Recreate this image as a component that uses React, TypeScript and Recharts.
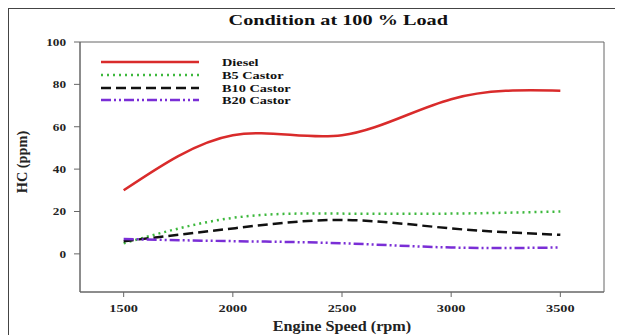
import React from 'react';
import { LineChart, Line, XAxis, YAxis, ReferenceArea } from 'recharts';

// HC emissions at full load
const speeds = [1500, 2000, 2500, 3000, 3500];
const diesel = [30, 56, 56, 73, 77];
const b5Castor = [5, 17, 19, 19, 20];
const b10Castor = [6, 12, 16, 12, 9];
const b20Castor = [7, 6, 5, 3, 3];

const xTicks = [1500, 2000, 2500, 3000, 3500];
const yTicks = [0, 20, 40, 60, 80, 100];

const series = [
    { key: 'diesel', name: 'Diesel', color: '#d92b2b', dash: undefined as string | undefined },
    { key: 'b5', name: 'B5 Castor', color: '#3db83d', dash: '2 4' },
    { key: 'b10', name: 'B10 Castor', color: '#111111', dash: '10 5' },
    { key: 'b20', name: 'B20 Castor', color: '#7a2ed6', dash: '10 3 2 3 2 3' },
];

const data = speeds.map((speed, i) => ({
    speed,
    diesel: diesel[i],
    b5: b5Castor[i],
    b10: b10Castor[i],
    b20: b20Castor[i],
}));

const font = 'Liberation Serif, "Times New Roman", serif';
// the source figure is stretched sideways, so its text is wider than normal
const stretch = 1.3;

const XTick = (props: any) => {
    const { x, y, payload } = props;
    return (
        <text transform={`translate(${x},${y}) scale(${stretch},1)`} textAnchor="middle" dy="0.8em"
              fontFamily={font} fontWeight="bold" fontSize={11} fill="#222">
            {payload.value}
        </text>
    );
};

const YTick = (props: any) => {
    const { x, y, payload } = props;
    return (
        <text transform={`translate(${x},${y}) scale(1.2,1)`} textAnchor="end" dy="0.36em"
              fontFamily={font} fontWeight="bold" fontSize={11} fill="#222">
            {payload.value}
        </text>
    );
};

const YTitle = (props: any) => {
    const vb = props.viewBox || { x: 0, y: 0, width: 0, height: 0 };
    const cx = vb.x + 13;
    const cy = vb.y + vb.height / 2 - 5;
    return (
        <text transform={`translate(${cx},${cy}) rotate(-90) scale(1.1,1.15)`} textAnchor="middle" dy="0.35em"
              fontFamily={font} fontWeight="bold" fontSize={13} fill="#222">
            HC (ppm)
        </text>
    );
};

const XTitle = (props: any) => {
    const vb = props.viewBox || { x: 0, y: 0, width: 0, height: 0 };
    const cx = vb.x + vb.width / 2;
    const cy = vb.y + vb.height - 9;
    return (
        <text transform={`translate(${cx},${cy}) scale(1.2,1.1)`} textAnchor="middle" dy="0.35em"
              fontFamily={font} fontWeight="bold" fontSize={13.5} fill="#222">
            Engine Speed (rpm)
        </text>
    );
};

// legend drawn over the plot, top-left like the original figure
const LegendBox = () => (
    <div style={{
        position: 'absolute', left: 92, top: 47, zIndex: 2,
        fontFamily: font, fontWeight: 'bold', fontSize: 11, color: '#111'
    }}>
        {series.map(s => (
            <div key={s.key} style={{ display: 'flex', alignItems: 'center', height: 12.7 }}>
                <svg width={98} height={12} style={{ display: 'block' }}>
                    <line x1={0} y1={6} x2={98} y2={6} stroke={s.color} strokeWidth={2.5}
                          strokeDasharray={s.dash} />
                </svg>
                <span style={{
                    marginLeft: 23, lineHeight: '12px', display: 'inline-block', whiteSpace: 'nowrap',
                    transform: `scaleX(${stretch})`, transformOrigin: 'left center'
                }}>{s.name}</span>
            </div>
        ))}
    </div>
);

const App = () => {
    return (
        <div style={{ position: 'relative', width: 610, height: 340, border: '1px solid #444', boxSizing: 'border-box' }}>
            <div style={{
                position: 'absolute', left: 67, width: 524, top: 3, textAlign: 'center',
                fontFamily: font, fontWeight: 'bold', fontSize: 15, color: '#111', zIndex: 2
            }}>
                <span style={{ display: 'inline-block', transform: 'scaleX(1.35)' }}>Condition at 100 % Load</span>
            </div>
            <LegendBox />
            <LineChart width={608} height={326} data={data}
                       margin={{ top: 33, right: 13, left: 0, bottom: 0 }}>
                <XAxis
                    dataKey="speed"
                    type="number"
                    domain={[1300, 3700]}
                    ticks={xTicks}
                    height={43}
                    tickSize={5}
                    tickMargin={6}
                    stroke="#666"
                    tick={<XTick />}
                    label={<XTitle />}
                />
                <YAxis
                    type="number"
                    domain={[-18, 100]}
                    ticks={yTicks}
                    width={71}
                    tickSize={6}
                    tickMargin={8}
                    stroke="#666"
                    tick={<YTick />}
                    label={<YTitle />}
                />
                <ReferenceArea x1={1300} x2={3700} y1={-18} y2={100} fill="none" stroke="#666" strokeWidth={1} />
                {series.map(s => (
                    <Line
                        key={s.key}
                        type="natural"
                        dataKey={s.key}
                        name={s.name}
                        stroke={s.color}
                        strokeWidth={2.5}
                        strokeDasharray={s.dash}
                        dot={false}
                        activeDot={false}
                        isAnimationActive={false}
                    />
                ))}
            </LineChart>
        </div>
    );
};

export default App;
